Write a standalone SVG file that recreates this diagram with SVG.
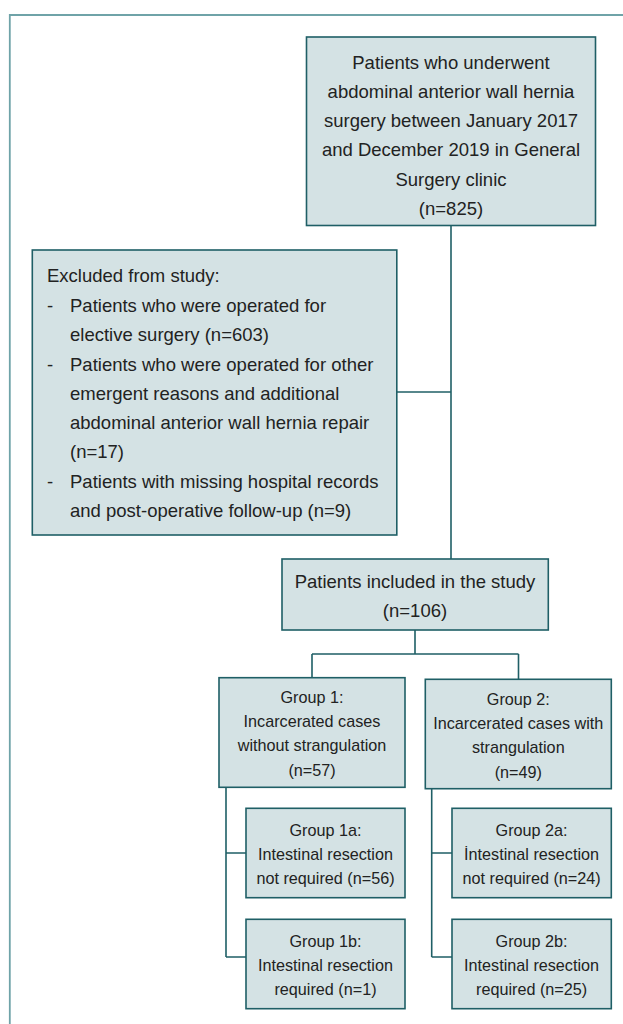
<svg xmlns="http://www.w3.org/2000/svg" width="623" height="1024" viewBox="0 0 623 1024">
<style>
.box{fill:#d4e2e4;stroke:#1f5f66;stroke-width:1.6}
.ln{fill:none;stroke:#1f5f66;stroke-width:1.6}
.frame{fill:none;stroke:#6fa3a8;stroke-width:1.8}
text{font-family:"Liberation Sans",Arial,sans-serif;fill:#222;dominant-baseline:central}
.big{font-size:18.5px}
.sm{font-size:16.2px}
.c{text-anchor:middle}
</style>
<rect width="623" height="1024" fill="#ffffff"/>
<path class="frame" d="M9.8,1024 V15 H623"/>
<g id="connectors">
<path class="ln" d="M451,226 V559"/>
<path class="ln" d="M397,392 H451"/>
<path class="ln" d="M415,630 V654 M312,654 H518.5 M312,654 V678 M518.5,654 V679"/>
<path class="ln" d="M226,787 V957 M226,853 H246 M226,957 H246"/>
<path class="ln" d="M431.7,789 V957 M431.7,853 H452 M431.7,957 H452"/>
</g>
<g id="n_total">
<rect class="box" x="306.5" y="37" width="289" height="188.5"/>
<text class="big c" x="451" y="62.5">Patients who underwent</text>
<text class="big c" x="451" y="91.5">abdominal anterior wall hernia</text>
<text class="big c" x="451" y="120.5">surgery between January 2017</text>
<text class="big c" x="451" y="149.5">and December 2019 in General</text>
<text class="big c" x="451" y="179">Surgery clinic</text>
<text class="big c" x="451" y="208">(n=825)</text>
</g>
<g id="n_excluded">
<rect class="box" x="32.3" y="250" width="364.5" height="285"/>
<text class="big" x="47" y="275">Excluded from study:</text>
<text class="big" x="47" y="305">-</text>
<text class="big" x="70" y="305">Patients who were operated for</text>
<text class="big" x="70" y="334">elective surgery (n=603)</text>
<text class="big" x="47" y="364">-</text>
<text class="big" x="70" y="364">Patients who were operated for other</text>
<text class="big" x="70" y="393">emergent reasons and additional</text>
<text class="big" x="70" y="422">abdominal anterior wall hernia repair</text>
<text class="big" x="70" y="451.5">(n=17)</text>
<text class="big" x="47" y="481">-</text>
<text class="big" x="70" y="481">Patients with missing hospital records</text>
<text class="big" x="70" y="510">and post-operative follow-up (n=9)</text>
</g>
<g id="n_included">
<rect class="box" x="282" y="559" width="266.3" height="71"/>
<text class="big c" x="415" y="581.5">Patients included in the study</text>
<text class="big c" x="415" y="610.5">(n=106)</text>
</g>
<g id="n_group1">
<rect class="box" x="219" y="677.7" width="186" height="109.6"/>
<text class="sm c" x="312" y="697">Group 1:</text>
<text class="sm c" x="312" y="721">Incarcerated cases</text>
<text class="sm c" x="312" y="744.5">without strangulation</text>
<text class="sm c" x="312" y="769.5">(n=57)</text>
</g>
<g id="n_group2">
<rect class="box" x="425.3" y="679.3" width="186" height="109.4"/>
<text class="sm c" x="518.3" y="699.3">Group 2:</text>
<text class="sm c" x="518.3" y="722.7">Incarcerated cases with</text>
<text class="sm c" x="518.3" y="746.7">strangulation</text>
<text class="sm c" x="518.3" y="772.3">(n=49)</text>
</g>
<g id="n_group1a">
<rect class="box" x="246" y="808.3" width="159" height="89.4"/>
<text class="sm c" x="325.5" y="830">Group 1a:</text>
<text class="sm c" x="325.5" y="853.5">Intestinal resection</text>
<text class="sm c" x="325.5" y="878.3">not required (n=56)</text>
</g>
<g id="n_group1b">
<rect class="box" x="246" y="919.3" width="159" height="89.4"/>
<text class="sm c" x="325.5" y="941">Group 1b:</text>
<text class="sm c" x="325.5" y="964.5">Intestinal resection</text>
<text class="sm c" x="325.5" y="989">required (n=1)</text>
</g>
<g id="n_group2a">
<rect class="box" x="452" y="808.3" width="159.3" height="89.4"/>
<text class="sm c" x="531.6" y="830">Group 2a:</text>
<text class="sm c" x="531.6" y="853.5">İntestinal resection</text>
<text class="sm c" x="531.6" y="878.3">not required (n=24)</text>
</g>
<g id="n_group2b">
<rect class="box" x="452" y="919.3" width="159.3" height="89.4"/>
<text class="sm c" x="531.6" y="941">Group 2b:</text>
<text class="sm c" x="531.6" y="964.5">Intestinal resection</text>
<text class="sm c" x="531.6" y="989">required (n=25)</text>
</g>
</svg>
